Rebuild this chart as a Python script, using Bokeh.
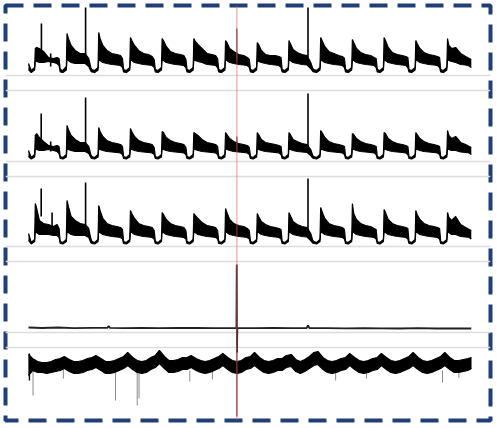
import numpy as np
from bokeh.plotting import figure
from bokeh.models import Range1d, Span
from bokeh.embed import file_html
from bokeh.resources import INLINE

# ---------------- data ----------------
# time axis: days, 14 weekly cycles
n_weeks = 14
week_offsets = [0.0, 0.6, 1.35, 1.5, 1.8, 2.4, 3.3, 4.4, 5.5, 6.3, 6.75]

# panel 1 envelope (upper / lower) per week
p1_upper = [
    [12, 5, 8, 27, 28, 27, 24, 18, 17, 18, 17],
    [6, 5, 9, 42, 37, 30, 25, 22, 22, 17, 8],
    [6, 5, 8, 43, 37, 30, 25, 22, 21, 20, 17],
    [6, 5, 8, 38, 35, 30, 25, 22, 21, 19, 16],
    [6, 5, 8, 37, 35, 29, 24, 22, 21, 20, 16],
    [6, 5, 8, 37, 34, 31, 27, 22, 21, 20, 17],
    [6, 5, 8, 35, 33, 27, 24, 21, 20, 18, 16],
    [6, 5, 8, 33, 31, 25, 21, 20, 20, 19, 18],
    [6, 5, 8, 35, 32, 26, 23, 21, 20, 13, 7],
    [6, 5, 8, 38, 35, 29, 24, 22, 20, 19, 17],
    [6, 5, 8, 36, 33, 27, 23, 21, 20, 18, 17],
    [6, 5, 8, 38, 35, 28, 23, 21, 20, 19, 18],
    [6, 5, 8, 35, 32, 27, 23, 21, 20, 19, 18],
    [6, 5, 8, 37, 30, 27, 28, 22, 19, 17, 16],
]
p1_lower = [
    [6, 3, 5.5, 14, 14, 13, 13, 14, 13, 12, 10],
    [3.5, 3, 5.5, 16, 15, 13, 12, 12, 12, 9, 4.5],
    [3.5, 3, 5.5, 16, 15, 13, 12, 11, 10.5, 10, 8],
    [3.5, 3, 5.5, 16, 15, 13, 12, 11, 10.5, 10, 8],
    [3.5, 3, 5.5, 16, 15, 13, 12, 11, 10.5, 10, 8],
    [3.5, 3, 5.5, 16, 15, 14, 13, 11, 10.5, 10, 8],
    [3.5, 3, 5.5, 16, 15, 13, 12, 11, 10.5, 10, 8],
    [3.5, 3, 5.5, 15, 14, 13, 12, 11, 10.5, 10, 8],
    [3.5, 3, 5.5, 16, 15, 13, 12, 11, 10.5, 7, 4],
    [3.5, 3, 5.5, 16, 15, 13, 12, 11, 10.5, 10, 8],
    [3.5, 3, 5.5, 16, 15, 13, 12, 11, 10.5, 10, 8],
    [3.5, 3, 5.5, 16, 15, 13, 12, 11, 10.5, 10, 8],
    [3.5, 3, 5.5, 16, 15, 13, 12, 11, 10.5, 10, 8],
    [3.5, 3, 5.5, 16, 15, 14, 13, 11, 10.5, 9.5, 8],
]
p1_spike_t = [2.85, 4.9, 12.6, 46.0, 61.7]
p1_spike_lo = [25, 9, 20, 15, 18]
p1_spike_hi = [52, 22, 68, 47, 68]

# panel 2
p2_upper = [
    [11, 4, 7, 26, 28, 24, 20, 16, 15, 16, 15],
    [5, 4, 7, 36, 32, 26, 22, 19, 19, 15, 7],
    [5, 4, 7, 34, 30, 25, 21, 19, 18, 17, 15],
    [5, 4, 7, 33, 30, 25, 21, 19, 18, 17, 14],
    [5, 4, 7, 30, 29, 24, 21, 19, 18, 17, 14],
    [5, 4, 7, 29, 28, 26, 22, 19, 18, 17, 15],
    [5, 4, 7, 29, 27, 23, 20, 18, 17, 16, 14],
    [5, 4, 7, 29, 27, 22, 19, 18, 17, 16, 15],
    [5, 4, 7, 29, 27, 22, 20, 18, 17, 12, 6],
    [5, 4, 7, 31, 29, 24, 20, 18, 17, 16, 15],
    [5, 4, 7, 28, 27, 23, 20, 18, 17, 16, 15],
    [5, 4, 7, 29, 28, 23, 20, 18, 17, 16, 15],
    [5, 4, 7, 29, 27, 23, 20, 18, 17, 16, 15],
    [5, 4, 7, 31, 26, 23, 25, 19, 17, 15, 14],
]
p2_lower = [
    [5, 2.5, 4.5, 12, 12, 11, 11, 12, 11, 10, 8],
    [3, 2.5, 4.5, 13, 12, 11, 10, 10, 10, 8, 4],
    [3, 2.5, 4.5, 13, 12, 11, 10, 9.5, 9, 8.5, 7],
    [3, 2.5, 4.5, 13, 12, 11, 10, 9.5, 9, 8.5, 7],
    [3, 2.5, 4.5, 13, 12, 11, 10, 9.5, 9, 8.5, 7],
    [3, 2.5, 4.5, 13, 12, 11, 10, 9.5, 9, 8.5, 7],
    [3, 2.5, 4.5, 13, 12, 11, 10, 9.5, 9, 8.5, 7],
    [3, 2.5, 4.5, 13, 12, 11, 10, 9.5, 9, 8.5, 7],
    [3, 2.5, 4.5, 13, 12, 11, 10, 9.5, 9, 6, 3.5],
    [3, 2.5, 4.5, 13, 12, 11, 10, 9.5, 9, 8.5, 7],
    [3, 2.5, 4.5, 13, 12, 11, 10, 9.5, 9, 8.5, 7],
    [3, 2.5, 4.5, 13, 12, 11, 10, 9.5, 9, 8.5, 7],
    [3, 2.5, 4.5, 13, 12, 11, 10, 9.5, 9, 8.5, 7],
    [3, 2.5, 4.5, 13, 12, 11, 11, 9.5, 9, 8.5, 7],
]
p2_spike_t = [2.8, 4.9, 12.6, 46.0, 61.7]
p2_spike_lo = [22, 10, 17, 12, 15]
p2_spike_hi = [48, 20, 64, 25, 68]

# panel 3
p3_upper = [
    [13, 4, 7, 43, 38, 26, 23, 22, 20, 22, 18],
    [5, 4, 7, 46, 40, 30, 26, 23, 22, 18, 8],
    [5, 4, 7, 41, 36, 28, 23, 21, 20, 19, 17],
    [5, 4, 7, 36, 33, 28, 23, 21, 20, 19, 16],
    [5, 4, 7, 34, 32, 27, 23, 21, 20, 19, 16],
    [5, 4, 7, 33, 31, 28, 24, 21, 20, 19, 16],
    [5, 4, 7, 38, 34, 27, 23, 21, 20, 18, 16],
    [5, 4, 7, 33, 30, 25, 22, 20, 19, 18, 17],
    [5, 4, 7, 34, 31, 25, 22, 20, 19, 13, 6],
    [5, 4, 7, 39, 35, 28, 23, 21, 20, 19, 17],
    [5, 4, 7, 43, 33, 27, 23, 21, 20, 18, 17],
    [5, 4, 7, 37, 34, 27, 23, 21, 20, 19, 18],
    [5, 4, 7, 36, 32, 27, 23, 21, 20, 19, 18],
    [5, 4, 7, 34, 29, 26, 30, 22, 19, 17, 16],
]
p3_lower = [
    [6, 2.5, 5, 15, 14, 12, 12, 12, 11, 11, 9],
    [3, 2.5, 5, 15, 14, 12, 11, 11, 11, 9, 4],
    [3, 2.5, 5, 15, 14, 12, 11, 10, 9.5, 9, 7.5],
    [3, 2.5, 5, 15, 14, 12, 11, 10, 9.5, 9, 7.5],
    [3, 2.5, 5, 15, 14, 12, 11, 10, 9.5, 9, 7.5],
    [3, 2.5, 5, 15, 14, 12, 11, 10, 9.5, 9, 7.5],
    [3, 2.5, 5, 15, 14, 12, 11, 10, 9.5, 9, 7.5],
    [3, 2.5, 5, 15, 14, 12, 11, 10, 9.5, 9, 7.5],
    [3, 2.5, 5, 15, 14, 12, 11, 10, 9.5, 6, 3.5],
    [3, 2.5, 5, 15, 14, 12, 11, 10, 9.5, 9, 7.5],
    [3, 2.5, 5, 15, 14, 12, 11, 10, 9.5, 9, 7.5],
    [3, 2.5, 5, 15, 14, 12, 11, 10, 9.5, 9, 7.5],
    [3, 2.5, 5, 15, 14, 12, 11, 10, 9.5, 9, 7.5],
    [3, 2.5, 5, 15, 14, 12, 12, 10, 9.5, 9, 7.5],
]
p3_spike_t = [2.8, 5.2, 12.6, 61.7]
p3_spike_lo = [30, 15, 20, 15]
p3_spike_hi = [58, 34, 64, 68]

# panel 4: nearly flat trace with one event spike
p4_t = [0.0, 3.0, 6.5, 10.0, 14.0, 17.4, 17.7, 18.0, 21.0, 25.0, 29.0, 33.0, 37.0,
        41.0, 45.9, 45.97, 46.03, 46.1, 50.0, 54.0, 58.0, 61.4, 61.7, 62.0, 66.0,
        70.0, 74.0, 78.0, 82.0, 86.0, 90.0, 94.0, 97.75]
p4_v = [5.0, 4.5, 5.0, 4.4, 4.7, 4.6, 6.5, 4.6, 4.4, 4.7, 4.4, 4.5, 4.6,
        4.4, 4.5, 68.0, -20.0, 4.5, 4.4, 4.6, 4.3, 4.5, 7.0, 4.5, 4.4,
        4.2, 4.4, 4.2, 4.0, 4.3, 4.0, 4.2, 4.0]

# panel 5: noisy band with weekly humps
p5_offsets = [0.0, 0.9, 2.0, 3.0, 4.0, 5.0, 6.0]
p5_upper = [
    [66, 62, 59, 58, 58, 59, 61],
    [62, 64, 61, 59, 59, 60, 62],
    [63, 65, 62, 59, 59, 60, 62],
    [64, 68, 63, 60, 59, 60, 63],
    [65, 70, 64, 60, 60, 61, 63],
    [63, 65, 62, 60, 59, 60, 62],
    [64, 67, 63, 60, 59, 60, 63],
    [64, 68, 63, 60, 59, 60, 62],
    [62, 65, 66, 61, 59, 61, 64],
    [68, 69, 63, 60, 59, 60, 62],
    [63, 67, 63, 60, 59, 60, 62],
    [63, 67, 63, 60, 59, 60, 62],
    [64, 68, 63, 60, 59, 60, 62],
    [64, 68, 63, 60, 60, 61, 62],
]
p5_lower = [
    [45, 50, 48, 48, 47, 48, 49],
    [50, 52, 49, 47, 47, 48, 50],
    [51, 53, 50, 47, 47, 48, 50],
    [52, 55, 51, 48, 47, 48, 51],
    [53, 57, 52, 48, 48, 49, 51],
    [51, 53, 50, 48, 47, 48, 50],
    [52, 55, 51, 48, 47, 48, 51],
    [52, 55, 51, 48, 47, 48, 50],
    [50, 53, 54, 49, 47, 49, 52],
    [55, 56, 51, 48, 47, 48, 50],
    [51, 55, 51, 48, 47, 48, 50],
    [51, 55, 51, 48, 47, 48, 50],
    [52, 55, 51, 48, 47, 48, 50],
    [52, 55, 51, 48, 48, 49, 50],
]
p5_end_t, p5_end_upper, p5_end_lower = 97.8, 63, 52
p5_spike_t = [0.2, 46.0]
p5_spike_lo = [40, 4]
p5_spike_hi = [67, 70]
p5_drop_t = [1.0, 7.7, 19.2, 24.0, 24.4, 35.6, 40.6, 67.8, 74.6, 91.4, 95.0]
p5_drop_lo = [25, 42, 20, 15, 22, 39, 41, 40, 42, 38, 43]
p5_drop_hi = [50, 52, 48, 48, 48, 50, 50, 50, 50, 50, 50]

event_day = 46.0

# ---------------- figure ----------------
# panel baselines (page px) -> each panel has its own y-range
panel_base = {"p1": 75, "p2": 161, "p3": 246, "p4": 332, "p5": 420}
frame_top, frame_bottom = 5, 420
W, H = 495, 426

p = figure(width=W, height=H, output_backend="svg", toolbar_location=None,
           x_range=Range1d(-5.08, 101.99),
           y_range=Range1d(panel_base["p1"] - frame_bottom, panel_base["p1"] - frame_top),
           x_axis_location=None, y_axis_location=None,
           min_border_left=5, min_border_right=5, min_border_top=5,
           min_border_bottom=H - frame_bottom)
p.grid.visible = False
p.background_fill_color = "white"
p.border_fill_color = "white"
p.outline_line_color = "#213f77"
p.outline_line_width = 4
p.outline_line_dash = "18 10"
p.extra_y_ranges = {k: Range1d(b - frame_bottom, b - frame_top)
                    for k, b in panel_base.items() if k != "p1"}


def rng(name):
    return "default" if name == "p1" else name


# separators
sep = [("p1", 0), ("p2", 71), ("p2", 0), ("p3", 70), ("p3", 0),
       ("p4", 71), ("p4", 0), ("p5", 73)]
for name, loc in sep:
    p.add_layout(Span(location=loc, dimension="width", line_color="#dcdcdc",
                      line_width=1.5, y_range_name=rng(name), level="underlay"))


def week_series(offsets, rows):
    t, v = [], []
    for k, row in enumerate(rows):
        for o, val in zip(offsets, row):
            t.append(7.0 * k + o)
            v.append(val)
    return np.array(t), np.array(v, dtype=float)


def draw_spikes(ts, los, his, r, color="black", width=1.6):
    ts, los, his = np.array(ts), np.array(los), np.array(his)
    ev = np.isclose(ts, event_day)
    if (~ev).any():
        p.segment(x0=ts[~ev], y0=los[~ev], x1=ts[~ev], y1=his[~ev],
                  line_color=color, line_width=width, y_range_name=r)
    if ev.any():
        p.segment(x0=ts[ev], y0=los[ev], x1=ts[ev], y1=his[ev],
                  line_color="#3a1010", line_width=1.0, y_range_name=r)


for name, up, lo, st, sl, sh in [
        ("p1", p1_upper, p1_lower, p1_spike_t, p1_spike_lo, p1_spike_hi),
        ("p2", p2_upper, p2_lower, p2_spike_t, p2_spike_lo, p2_spike_hi),
        ("p3", p3_upper, p3_lower, p3_spike_t, p3_spike_lo, p3_spike_hi)]:
    t, u = week_series(week_offsets, up)
    _, l = week_series(week_offsets, lo)
    r = rng(name)
    p.varea(x=t, y1=l, y2=u, fill_color="black", y_range_name=r)
    p.line(t, u, line_color="black", line_width=1.2, y_range_name=r)
    p.line(t, l, line_color="black", line_width=1.2, y_range_name=r)
    draw_spikes(st, sl, sh, r)

# panel 4
p.line(p4_t, p4_v, line_color="#222222", line_width=1.8, y_range_name="p4")

# panel 5
t5, u5 = week_series(p5_offsets, p5_upper)
_, l5 = week_series(p5_offsets, p5_lower)
t5 = np.append(t5, p5_end_t)
u5 = np.append(u5, p5_end_upper)
l5 = np.append(l5, p5_end_lower)
p.segment(x0=p5_drop_t, y0=p5_drop_lo, x1=p5_drop_t, y1=p5_drop_hi,
          line_color="#8a8a8a", line_width=1, y_range_name="p5")
p.varea(x=t5, y1=l5, y2=u5, fill_color="black", y_range_name="p5")
p.line(t5, u5, line_color="black", line_width=1.2, y_range_name="p5")
p.line(t5, l5, line_color="black", line_width=1.2, y_range_name="p5")
draw_spikes(p5_spike_t, p5_spike_lo, p5_spike_hi, "p5", width=1.4)

# event marker
p.add_layout(Span(location=event_day, dimension="height", line_color="#e85c5c",
                  line_alpha=0.55, line_width=1.2))

open("out.html", "w").write(file_html(p, INLINE))
